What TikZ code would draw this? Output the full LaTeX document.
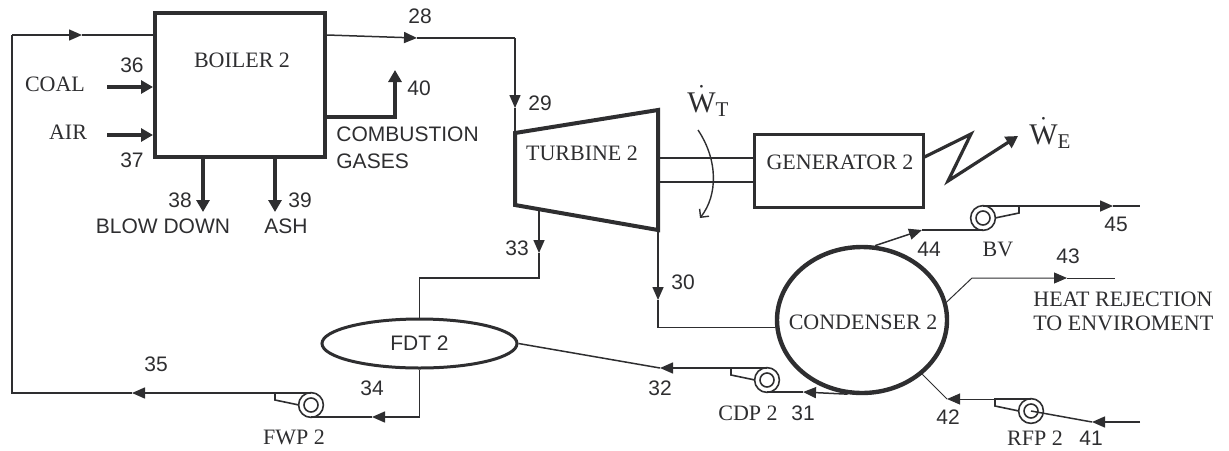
\documentclass[tikz,border=0pt]{standalone}
\usepackage{fontspec}
\setmainfont{Liberation Serif}
\setsansfont{Liberation Sans}
\usepackage{tikz}
\usetikzlibrary{arrows.meta, shapes.geometric}

\definecolor{ink}{HTML}{2E2E30}

\tikzset{
  pump/.pic={
    \draw[line width=0.8pt] (0,0) circle[radius=6.2pt];
    \draw[line width=0.8pt] (0,0) circle[radius=3.5pt];
    \draw[line width=0.8pt] (0,-12) -- (-36,-12) -- (-36,-5) -- (-12,0);
    \coordinate (-out) at (-36,-12);
    \coordinate (-in) at (0,12);
    \coordinate (-c) at (0,0);
  }
}

\begin{document}
\begin{tikzpicture}[x=0.5pt, y=-0.5pt, color=ink,
    every node/.style={inner sep=0pt},
    num/.style={font=\sffamily\fontsize{10.5}{13.5}\selectfont},
    txt/.style={font=\fontsize{11}{12}\selectfont},
    pow/.style={font=\fontsize{15}{16}\selectfont, anchor=base west},
    unit/.style={draw, line width=2pt},
    pipe/.style={draw, line width=0.75pt},
    arr/.style={pipe, -{Triangle[length=6.5pt, width=5.5pt]}},
    fat/.style={draw, line width=1.6pt, -{Triangle[length=6pt, width=6.5pt]}}]

    \useasboundingbox (0,0) rectangle (1229,450);

    % boiler
    \node[unit, minimum width=85pt, minimum height=72pt] (boiler) at (240,85) {};
    \node[txt] (boilertxt) at (242,60) {BOILER 2};

    \coordinate (coal) at (107,87);
    \coordinate (air) at (107,135);
    \draw[fat] (coal) -- (boiler.west |- coal);
    \draw[fat] (air) -- (boiler.west |- air);
    \node[txt] (coaltxt) at (55,84) {COAL};
    \node[txt] (airtxt) at (68,132) {AIR};
    \node[num] (n36) at (132,65) {36};
    \node[num] (n37) at (132,160) {37};

    \coordinate (a38) at (203,212);
    \coordinate (a39) at (275,212);
    \draw[fat] (boiler.south -| a38) -- (a38);
    \draw[fat] (boiler.south -| a39) -- (a39);
    \node[num] (n38) at (180,200) {38};
    \node[num] (n39) at (300,200) {39};
    \node[num] (blowtxt) at (163,226) {BLOW DOWN};
    \node[num] (ashtxt) at (286,226) {ASH};

    \coordinate (k40) at (395,117);
    \coordinate (a40) at (395,70);
    \draw[fat] (boiler.east |- k40) -- (k40) -- (a40);
    \node[num] (n40) at (419,88) {40};
    \node[num, anchor=west, align=left] (gastxt) at (336,148) {COMBUSTION\\GASES};

    % feed water loop
    \coordinate (f1) at (12,35);
    \coordinate (afeed) at (82,35);
    \coordinate (a35) at (132,393);
    \pic (fwp) at (311,405) {pump};
    \draw[arr] (fwp-out) -- (a35);
    \draw[pipe] (a35) -| (f1);
    \draw[arr] (f1) -- (afeed);
    \draw[pipe] (afeed) -- (boiler.west |- afeed);
    \node[num] (n35) at (156,364) {35};
    \node[txt] (fwptxt) at (294,437) {FWP 2};

    % steam to turbine
    \coordinate (a28) at (417,38);
    \coordinate (k28) at (515,38);
    \coordinate (a29) at (515,108);
    \coordinate (ttl) at (515,133);
    \coordinate (ttr) at (658,110);
    \coordinate (tbr) at (658,230);
    \coordinate (tbl) at (515,205);
    \draw[arr] (boiler.east |- afeed) -- (a28);
    \draw[pipe] (a28) -- (k28);
    \draw[arr] (k28) -- (a29);
    \draw[pipe] (a29) -- (ttl);
    \node[num] (n28) at (420,16) {28};
    \node[num] (n29) at (540,103) {29};

    \draw[unit] (ttl) -- (ttr) -- (tbr) -- (tbl) -- cycle;
    \node[txt] (turbinetxt) at (582,153) {TURBINE 2};

    % shaft and generator
    \node[draw, line width=1.5pt, minimum width=84.5pt, minimum height=36.5pt] (gen) at (838.5,170.5) {};
    \node[txt] (gentxt) at (840,162) {GENERATOR 2};
    \coordinate (s1) at (658,158);
    \coordinate (s2) at (658,182);
    \draw[line width=1.4pt] (s1) -- (gen.west |- s1);
    \draw[line width=1.4pt] (s2) -- (gen.west |- s2);

    \node[pow] (wt) at (687,112) {$\dot{\mathrm{W}}_{\mathrm{T}}$};
    \coordinate (r1) at (698,130);
    \coordinate (r2) at (700,218);
    \draw[line width=0.7pt, -{Straight Barb[length=3pt, width=6pt]}] (r1) .. controls (718,160) and (718,195) .. (r2);

    \coordinate (z0) at (924,157);
    \coordinate (z1) at (971,134);
    \coordinate (z2) at (948,181);
    \coordinate (awe) at (1018,136);
    \draw[fat] (gen.east |- z0) -- (z1) -- (z2) -- (awe);
    \node[pow] (we) at (1029,144) {$\dot{\mathrm{W}}_{\mathrm{E}}$};

    % feed water tank
    \node[ellipse, draw, line width=1.5pt, minimum width=97.5pt, minimum height=24.5pt, num] (fdt) at (419.5,343.5) {FDT 2};

    \coordinate (t33) at (539,209);
    \coordinate (a33) at (539,253);
    \coordinate (k33) at (539,278);
    \draw[arr] (t33) -- (a33);
    \draw[pipe] (a33) -- (k33) -| (fdt.north);
    \node[num] (n33) at (517,248) {33};

    \coordinate (a34) at (372,417);
    \draw[arr] (fdt.south) |- (a34);
    \draw[pipe] (a34) -- (fwp-in);
    \node[num] (n34) at (372,388) {34};

    % condenser
    \node[ellipse, draw, line width=2.2pt, minimum width=85pt, minimum height=73pt] (cond) at (862,320) {};
    \node[txt] (condtxt) at (863,322) {CONDENSER 2};

    \coordinate (a30) at (658,300);
    \draw[arr] (tbr) -- (a30);
    \draw[pipe] (a30) |- (cond.185);
    \node[num] (n30) at (683,282) {30};

    \pic (cdp) at (767,380) {pump};
    \coordinate (a31) at (803,392);
    \coordinate (a32) at (660,368);
    \draw[arr] (cond.259) -- (a31);
    \draw[pipe] (a31) -- (cdp-in);
    \draw[arr] (cdp-out) -- (a32);
    \draw[pipe] (a32) -- (fdt.east);
    \node[num] (n31) at (803,413) {31};
    \node[num] (n32) at (660,388) {32};
    \node[txt] (cdptxt) at (748,413) {CDP 2};

    \pic[xscale=-1] (bv) at (983,218) {pump};
    \coordinate (a44) at (922,230);
    \coordinate (a45) at (1113,206);
    \coordinate (e45) at (1140,206);
    \draw[arr] (cond.80) -- (a44);
    \draw[pipe] (a44) -- (bv-in);
    \draw[arr] (bv-out) -- (a45);
    \draw[pipe] (a45) -- (e45);
    \node[num] (n44) at (929,249) {44};
    \node[txt] (bvtxt) at (998,249) {BV};
    \node[num] (n45) at (1116,224) {45};

    \coordinate (k43) at (972,278);
    \coordinate (a43) at (1067,278);
    \coordinate (e43) at (1115,278);
    \draw[arr, line width=0.5pt] (cond.12) -- (k43) -- (a43);
    \draw[pipe, line width=0.5pt] (a43) -- (e43);
    \node[num] (n43) at (1068,256) {43};
    \node[txt, anchor=west, align=left] (heattxt) at (1033,311) {HEAT REJECTION\\TO ENVIROMENT};

    \pic (rfp) at (1031,411) {pump};
    \coordinate (a42) at (947,399);
    \coordinate (a41) at (1092,422);
    \coordinate (e41) at (1140,422);
    \draw[arr, line width=0.5pt] (rfp-out) -- (a42);
    \draw[pipe, line width=0.5pt] (a42) -- (cond.318);
    \draw[arr] (e41) -- (a41);
    \draw[pipe] (a41) -- (rfp-c);
    \node[num] (n42) at (948,417) {42};
    \node[num] (n41) at (1091,438) {41};
    \node[txt] (rfptxt) at (1035,438) {RFP 2};
\end{tikzpicture}
\end{document}
